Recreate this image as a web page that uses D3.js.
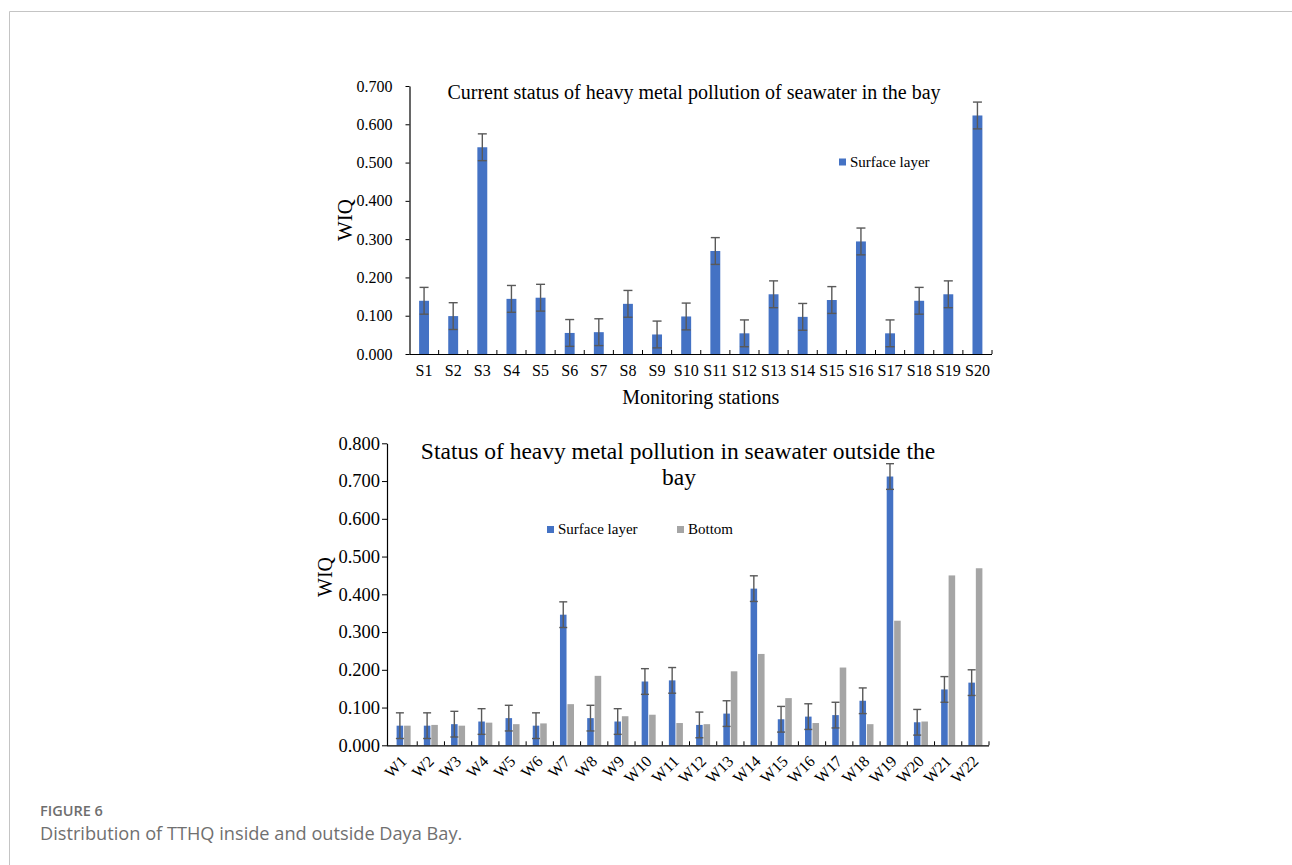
<!DOCTYPE html>
<html>
<head>
<meta charset="utf-8">
<script src="https://cdn.jsdelivr.net/npm/d3@7"></script>
<style>
  html, body { margin: 0; padding: 0; background: #fff; }
  svg { display: block; }
</style>
</head>
<body>
<svg id="fig" width="1292" height="865"></svg>
<script>
// ---- inside the bay (surface layer only) ----
const bayStations = ["S1","S2","S3","S4","S5","S6","S7","S8","S9","S10",
                     "S11","S12","S13","S14","S15","S16","S17","S18","S19","S20"];
const baySurface = [0.139,0.099,0.540,0.144,0.147,0.055,0.057,0.131,0.051,0.098,
                    0.269,0.054,0.156,0.097,0.141,0.294,0.054,0.139,0.156,0.623];
const bayError   = [0.035,0.035,0.035,0.035,0.035,0.035,0.035,0.035,0.035,0.035,
                    0.035,0.035,0.035,0.035,0.035,0.035,0.035,0.035,0.035,0.035];
const bayTicks = [0,0.1,0.2,0.3,0.4,0.5,0.6,0.7];

// ---- outside the bay (surface and bottom layers) ----
const outStations = ["W1","W2","W3","W4","W5","W6","W7","W8","W9","W10","W11",
                     "W12","W13","W14","W15","W16","W17","W18","W19","W20","W21","W22"];
const outSurface = [0.052,0.052,0.056,0.063,0.072,0.052,0.346,0.072,0.063,0.169,0.172,
                    0.054,0.084,0.415,0.069,0.076,0.080,0.118,0.712,0.061,0.148,0.166];
const outBottom  = [0.052,0.054,0.052,0.060,0.056,0.058,0.109,0.184,0.077,0.081,0.059,
                    0.056,0.196,0.242,0.125,0.059,0.206,0.056,0.330,0.063,0.450,0.469];
const outError   = [0.034,0.034,0.034,0.034,0.034,0.034,0.034,0.034,0.034,0.034,0.034,
                    0.034,0.034,0.034,0.034,0.034,0.034,0.034,0.034,0.034,0.034,0.034];
const outTicks = [0,0.1,0.2,0.3,0.4,0.5,0.6,0.7,0.8];

const seriesNames = ["Surface layer","Bottom"];
const colors = { "Surface layer": "#4472C4", "Bottom": "#A5A5A5" };
const errColor = "#595959";
const fmt = d3.format(".3f");
const SERIF = '"Liberation Serif", "Times New Roman", serif';
const SANS = '"Open Sans", "Noto Sans", sans-serif';

const svg = d3.select("#fig");

// page frame
svg.append("line").attr("x1", 9.5).attr("x2", 1292).attr("y1", 11.5).attr("y2", 11.5)
  .attr("stroke", "#c4c4c4").attr("stroke-width", 1);
svg.append("line").attr("x1", 9.5).attr("x2", 9.5).attr("y1", 11.5).attr("y2", 865)
  .attr("stroke", "#c4c4c4").attr("stroke-width", 1);

function serifText(sel, size) {
  return sel.style("font-family", SERIF).style("font-size", size + "px").attr("fill", "#000");
}

function styleAxis(g) {
  g.attr("font-family", null).attr("font-size", null);
  g.select(".domain").attr("stroke", "#000").attr("stroke-width", 1.2);
  g.selectAll(".tick line").attr("stroke", "#000").attr("stroke-width", 1);
}

// category tick marks sit between stations, pointing up into the plot
function categoryTicks(g, x, n, y0) {
  const step = x.step();
  const x0 = x.range()[0];
  const pos = d3.range(1, n + 1).map(i => x0 + i * step);
  g.append("g").selectAll("line").data(pos).join("line")
    .attr("x1", d => d).attr("x2", d => d)
    .attr("y1", y0).attr("y2", y0 - 4)
    .attr("stroke", "#000").attr("stroke-width", 1);
}

function errorBars(g, data, cx, y, capW) {
  const eg = g.append("g").attr("stroke", errColor).attr("stroke-width", 1.4);
  data.forEach(d => {
    const c = cx(d);
    eg.append("line").attr("x1", c).attr("x2", c).attr("y1", y(d.v - d.e)).attr("y2", y(d.v + d.e));
    eg.append("line").attr("x1", c - capW/2).attr("x2", c + capW/2).attr("y1", y(d.v + d.e)).attr("y2", y(d.v + d.e));
    eg.append("line").attr("x1", c - capW/2).attr("x2", c + capW/2).attr("y1", y(d.v - d.e)).attr("y2", y(d.v - d.e));
  });
}

// ================= Panel 1: inside the bay =================
{
  const left = 409.5, right = 992, top = 86, bottom = 354;
  const x = d3.scaleBand().domain(bayStations).range([left, right])
    .paddingInner(0.66).paddingOuter(0.33);
  const y = d3.scaleLinear().domain([0, 0.7]).range([bottom, top]);
  const g = svg.append("g");

  const data = bayStations.map((s, i) => ({ s, v: baySurface[i], e: bayError[i] }));
  g.append("g").selectAll("rect").data(data).join("rect")
    .attr("x", d => x(d.s)).attr("width", x.bandwidth())
    .attr("y", d => y(d.v)).attr("height", d => y(0) - y(d.v))
    .attr("fill", colors["Surface layer"]);
  errorBars(g, data, d => x(d.s) + x.bandwidth()/2, y, 9);

  const ya = g.append("g").attr("transform", `translate(${left},0)`)
    .call(d3.axisLeft(y).tickValues(bayTicks).tickFormat(fmt).tickSize(4).tickPadding(13).tickSizeOuter(0));
  styleAxis(ya);
  serifText(ya.selectAll("text"), 16);

  const xa = g.append("g").attr("transform", `translate(0,${bottom})`)
    .call(d3.axisBottom(x).tickSize(0).tickPadding(11).tickSizeOuter(0));
  styleAxis(xa);
  xa.select(".domain").attr("d", `M${left},0.5H${right}`);
  serifText(xa.selectAll("text"), 16);
  categoryTicks(g, x, bayStations.length, bottom);

  serifText(g.append("text"), 20).attr("x", (left + right)/2).attr("y", 404)
    .attr("text-anchor", "middle").text("Monitoring stations");
  serifText(g.append("text"), 21)
    .attr("transform", `translate(352,220) rotate(-90)`)
    .attr("text-anchor", "middle").text("WIQ");
  serifText(g.append("text"), 20).attr("x", 694).attr("y", 99)
    .attr("text-anchor", "middle")
    .text("Current status of heavy metal pollution of seawater in the bay");

  // legend
  g.append("rect").attr("x", 839).attr("y", 158.5).attr("width", 7).attr("height", 7)
    .attr("fill", colors["Surface layer"]);
  serifText(g.append("text"), 15).attr("x", 850).attr("y", 166.5).text("Surface layer");
}

// ================= Panel 2: outside the bay =================
{
  const axisX = 387, left = 390, right = 989, top = 443.3, bottom = 745.3;
  const x0 = d3.scaleBand().domain(outStations).range([left, right])
    .paddingInner(0.485).paddingOuter(0.2425);
  const x1 = d3.scaleBand().domain(seriesNames).range([0, x0.bandwidth()]).paddingInner(0.12);
  const y = d3.scaleLinear().domain([0, 0.8]).range([bottom, top]);
  const g = svg.append("g");

  const rows = outStations.map((s, i) => ({ s, vals: [
    { k: "Surface layer", v: outSurface[i] },
    { k: "Bottom", v: outBottom[i] } ] }));

  g.append("g").selectAll("g").data(rows).join("g")
    .attr("transform", d => `translate(${x0(d.s)},0)`)
    .selectAll("rect").data(d => d.vals).join("rect")
      .attr("x", d => x1(d.k)).attr("width", x1.bandwidth())
      .attr("y", d => y(d.v)).attr("height", d => y(0) - y(d.v))
      .attr("fill", d => colors[d.k]);

  const errData = outStations.map((s, i) => ({ s, v: outSurface[i], e: outError[i] }));
  errorBars(g, errData, d => x0(d.s) + x1("Surface layer") + x1.bandwidth()/2, y, 8);

  const ya = g.append("g").attr("transform", `translate(${axisX},0)`)
    .call(d3.axisLeft(y).tickValues(outTicks).tickFormat(fmt).tickSize(5).tickPadding(2).tickSizeOuter(0));
  styleAxis(ya);
  serifText(ya.selectAll("text"), 18.5);

  const xa = g.append("g").attr("transform", `translate(0,${bottom})`)
    .call(d3.axisBottom(x0).tickSize(0).tickSizeOuter(0));
  styleAxis(xa);
  xa.select(".domain").attr("d", `M${axisX},0.5H${right}`);
  serifText(xa.selectAll(".tick text"), 16)
    .attr("text-anchor", "end")
    .attr("dy", null).attr("y", null)
    .attr("transform", "translate(4,17) rotate(-45)");
  categoryTicks(g, x0, outStations.length, bottom);

  serifText(g.append("text"), 20)
    .attr("transform", `translate(332,577) rotate(-90)`)
    .attr("text-anchor", "middle").text("WIQ");
  const t = serifText(g.append("text"), 23.5).attr("text-anchor", "middle");
  t.append("tspan").attr("x", 678).attr("y", 459)
    .text("Status of heavy metal pollution in seawater outside the");
  t.append("tspan").attr("x", 679).attr("y", 485).text("bay");

  // legend
  const lg = [{ k: "Surface layer", x: 547 }, { k: "Bottom", x: 677 }];
  lg.forEach(l => {
    g.append("rect").attr("x", l.x).attr("y", 526).attr("width", 7).attr("height", 7)
      .attr("fill", colors[l.k]);
    serifText(g.append("text"), 15).attr("x", l.x + 11).attr("y", 533.5).text(l.k);
  });
}

// caption
svg.append("text").attr("x", 40).attr("y", 815.5)
  .style("font-family", SANS).style("font-size", "14.5px").style("font-weight", 600)
  .attr("fill", "#6e6e6e").text("FIGURE 6");
svg.append("text").attr("x", 40).attr("y", 840)
  .style("font-family", SANS).style("font-size", "18.2px")
  .attr("fill", "#707070")
  .text("Distribution of TTHQ inside and outside Daya Bay.");
</script>
</body>
</html>
